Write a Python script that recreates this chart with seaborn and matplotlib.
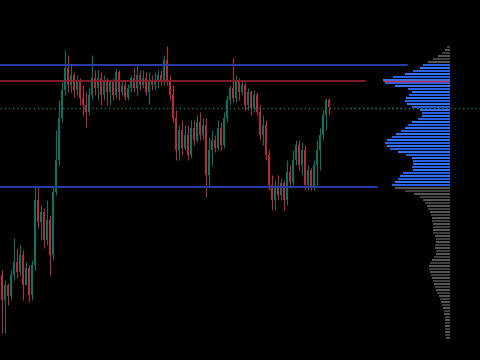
import numpy as np
import pandas as pd
import matplotlib
matplotlib.use("Agg")
import matplotlib.pyplot as plt
import seaborn as sns

# ---------------- data ----------------
first_open = 85
close = [60, 75, 64, 85, 98, 88, 105, 75, 92, 65,
         95, 160, 138, 148, 120, 140, 105, 168, 200, 242,
         270, 292, 275, 285, 270, 278, 262, 255, 248, 265,
         282, 272, 282, 265, 280, 268, 278, 265, 288, 268,
         275, 263, 272, 282, 272, 285, 275, 282, 268, 280,
         275, 280, 285, 280, 300, 278, 265, 242, 210, 230,
         212, 225, 205, 232, 220, 238, 225, 235, 185, 210,
         220, 212, 232, 215, 242, 260, 272, 262, 280, 268,
         275, 255, 268, 252, 265, 248, 225, 235, 205, 175,
         160, 172, 165, 177, 160, 188, 178, 200, 215, 195,
         210, 175, 190, 172, 195, 210, 225, 245, 260, 253]
high = [90, 80, 77, 90, 122, 112, 115, 110, 98, 95,
        100, 173, 173, 155, 152, 160, 145, 173, 230, 260,
        278, 310, 305, 295, 288, 285, 282, 275, 268, 272,
        305, 290, 290, 288, 285, 282, 280, 282, 292, 290,
        280, 280, 276, 285, 292, 295, 290, 290, 288, 288,
        285, 288, 290, 290, 305, 314, 285, 275, 250, 235,
        240, 235, 235, 240, 240, 245, 248, 242, 242, 223,
        230, 225, 240, 238, 248, 265, 275, 302, 285, 282,
        280, 278, 272, 270, 270, 268, 255, 245, 240, 210,
        185, 180, 185, 182, 180, 200, 195, 210, 220, 220,
        218, 215, 195, 192, 200, 220, 232, 250, 262, 262]
low = [27, 27, 55, 60, 80, 82, 85, 60, 75, 58,
       60, 90, 132, 120, 112, 115, 85, 100, 165, 195,
       238, 265, 268, 268, 263, 265, 255, 245, 233, 245,
       260, 265, 260, 255, 260, 255, 255, 260, 262, 260,
       265, 260, 260, 268, 268, 265, 270, 272, 265, 256,
       270, 270, 272, 275, 275, 275, 260, 238, 200, 200,
       205, 210, 200, 202, 215, 218, 220, 220, 163, 173,
       195, 208, 210, 210, 212, 238, 255, 258, 258, 260,
       265, 250, 250, 245, 248, 245, 220, 215, 200, 170,
       150, 150, 160, 160, 150, 155, 172, 175, 195, 190,
       185, 170, 170, 170, 170, 175, 190, 220, 230, 245]
open_ = [first_open] + close[:-1]

# volume profile (price level -> volume)
profile_price = list(range(313, 19, -3))
profile_volume = [3, 5, 8, 12, 17, 22, 27, 30, 37, 45,
                  57, 67, 65, 55, 42, 38, 41, 44, 45, 43,
                  38, 30, 28, 28, 32, 38, 42, 45, 49, 54,
                  58, 63, 65, 63, 60, 52, 44, 38, 37, 37,
                  38, 37, 47, 50, 52, 55, 58, 55, 45, 36,
                  30, 27, 25, 23, 22, 20, 19, 18, 18, 17,
                  17, 17, 17, 15, 14, 14, 15, 15, 14, 14,
                  16, 18, 20, 21, 21, 20, 19, 18, 17, 16,
                  15, 14, 13, 11, 10, 9, 8, 7, 6, 6,
                  5, 5, 5, 5, 5, 5, 5, 4]

VAH = 295
POC = 279
VAL = 173
last_price = 252.3

# ---------------- style ----------------
sns.set_theme(style="dark", rc={"axes.facecolor": "black",
                                "figure.facecolor": "black"})
UP = "#0b725f"
DOWN = "#b62a39"
LEVEL_BLUE = "#2b3fa3"
POC_RED = "#8e1f2d"
LAST_COL = "#14705f"

fig = plt.figure(figsize=(4.8, 3.6), dpi=100)
fig.patch.set_facecolor("black")
ax = fig.add_axes([0, 0, 1, 1])
ax.set_facecolor("black")
ax.set_xlim(-2 / 3, 160 - 2 / 3)
ax.set_ylim(0, 360)
ax.axis("off")

n = len(close)
xs = np.arange(n)
o = np.array(open_, dtype=float)
c = np.array(close, dtype=float)
h = np.array(high, dtype=float)
l = np.array(low, dtype=float)
cols = [UP if cc >= oo else DOWN for oo, cc in zip(o, c)]
ax.vlines(xs, l, h, colors=cols, linewidth=0.8, zorder=2)
body_bottom = np.minimum(o, c)
body_h = np.maximum(np.abs(c - o), 1.0)
ax.bar(xs, body_h, bottom=body_bottom, width=0.7, color=cols,
       linewidth=0, zorder=3)

# level lines
ax.axhline(VAH, xmin=0, xmax=407 / 480, color=LEVEL_BLUE, lw=1.4, zorder=4)
ax.axhline(POC, xmin=0, xmax=365 / 480, color=POC_RED, lw=1.4,
           alpha=0.9, zorder=4)
ax.axhline(VAL, xmin=0, xmax=377 / 480, color=LEVEL_BLUE, lw=1.4, zorder=4)
ax.axhline(last_price, color=LAST_COL, lw=1.0, ls=(0, (1, 2)), zorder=4)

# volume profile
prof = pd.DataFrame({"price": profile_price, "volume": profile_volume})
def zone(row):
    inside = VAL <= row["price"] <= VAH
    shade = "a" if (row.name % 2 == 0) else "b"
    return ("value_" if inside else "out_") + shade
prof["zone"] = prof.apply(zone, axis=1)
edges = [float(e) for e in np.arange(20.5, 315.0, 3.0)]
zone_colors = {"value_a": "#2a5fe8", "value_b": "#3474ff",
               "out_a": "#404040", "out_b": "#565656"}

ax2 = fig.add_axes([350 / 480, 0, 100 / 480, 1])
ax2.patch.set_visible(False)
for zname, zcol in zone_colors.items():
    sub = prof[prof["zone"] == zname]
    sns.histplot(data=sub, y="price", weights="volume", bins=edges,
                 shrink=0.9, alpha=1, linewidth=0, color=zcol, ax=ax2)
poc_vol = max(profile_volume)
ax2.hlines(POC, 0, poc_vol, colors="#c0303f", lw=1.0, zorder=5)
ax2.axhline(last_price, color=LAST_COL, lw=1.0, ls=(0, (1, 2)), zorder=5)
ax2.set_xlim(100, 0)
ax2.set_ylim(0, 360)
ax2.axis("off")

fig.savefig("out.png", dpi=100, facecolor="black")
